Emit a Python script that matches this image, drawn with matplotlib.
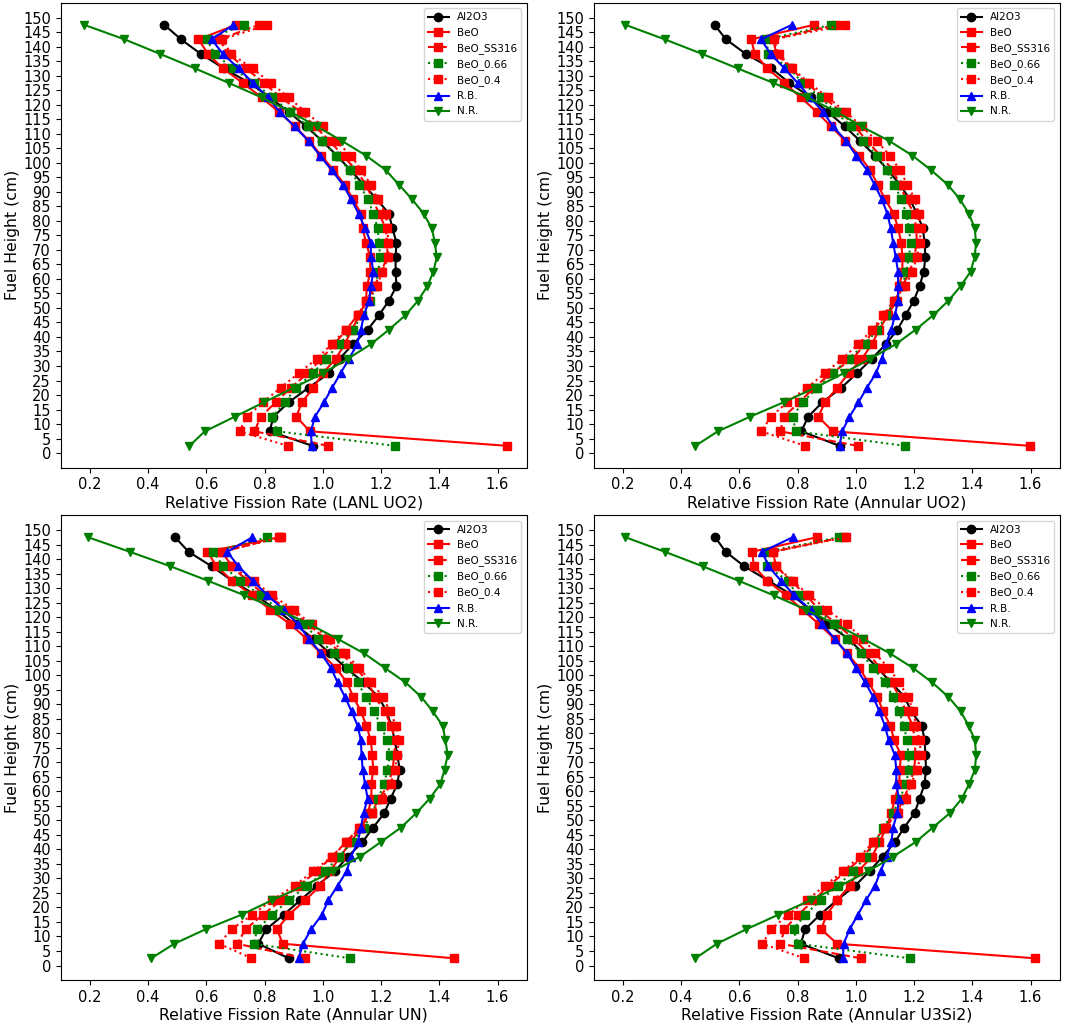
import numpy as np
import matplotlib.pyplot as plt

plt.rcParams['font.size'] = 10.5

heights = [2.5, 7.5, 12.5, 17.5, 22.5, 27.5, 32.5, 37.5, 42.5, 47.5,
           52.5, 57.5, 62.5, 67.5, 72.5, 77.5, 82.5, 87.5, 92.5, 97.5,
           102.5, 107.5, 112.5, 117.5, 122.5, 127.5, 132.5, 137.5, 142.5, 147.5]

names = ['Al2O3', 'BeO', 'BeO_SS316', 'BeO_0.66', 'BeO_0.4', 'R.B.', 'N.R.']
styles = ['k-o', 'r-s', 'r--s', 'g:s', 'r:s', 'b-^', 'g-v']
xlabels = ['Relative Fission Rate (LANL UO2)', 'Relative Fission Rate (Annular UO2)',
           'Relative Fission Rate (Annular UN)', 'Relative Fission Rate (Annular U3Si2)']

# LANL UO2
p1_al2o3 = [0.965, 0.818, 0.830, 0.883, 0.951, 1.021, 1.058, 1.103, 1.154, 1.193, 1.227, 1.253, 1.250, 1.250, 1.253,
            1.239, 1.227, 1.185, 1.140, 1.095, 1.048, 0.998, 0.943, 0.883, 0.818, 0.748, 0.660, 0.581, 0.513, 0.456]
p1_beo = [1.634, 0.956, 0.909, 0.928, 0.968, 1.000, 1.044, 1.075, 1.100, 1.126, 1.148, 1.152, 1.163, 1.163, 1.148,
          1.137, 1.131, 1.103, 1.075, 1.036, 0.995, 0.953, 0.905, 0.849, 0.790, 0.725, 0.657, 0.606, 0.573, 0.702]
p1_ss316 = [1.019, 0.765, 0.787, 0.838, 0.890, 0.948, 0.995, 1.040, 1.080, 1.120, 1.150, 1.178, 1.200, 1.222, 1.221,
            1.216, 1.193, 1.171, 1.148, 1.114, 1.069, 1.024, 0.973, 0.925, 0.855, 0.798, 0.736, 0.675, 0.645, 0.781]
p1_066 = [1.247, 0.844, 0.827, 0.870, 0.908, 0.966, 1.011, 1.056, 1.103, 1.135, 1.163, 1.180, 1.190, 1.197, 1.193,
          1.188, 1.174, 1.154, 1.126, 1.092, 1.047, 0.996, 0.949, 0.889, 0.826, 0.765, 0.691, 0.629, 0.601, 0.730]
p1_04 = [0.880, 0.714, 0.739, 0.795, 0.855, 0.917, 0.979, 1.030, 1.078, 1.122, 1.155, 1.185, 1.205, 1.225, 1.225,
         1.222, 1.216, 1.188, 1.165, 1.131, 1.097, 1.045, 1.001, 0.940, 0.883, 0.821, 0.759, 0.685, 0.655, 0.809]
p1_rb = [0.962, 0.959, 0.973, 1.004, 1.032, 1.061, 1.090, 1.118, 1.131, 1.141, 1.159, 1.165, 1.174, 1.165, 1.165,
         1.145, 1.123, 1.097, 1.069, 1.030, 0.990, 0.951, 0.903, 0.852, 0.812, 0.760, 0.711, 0.657, 0.618, 0.693]
p1_nr = [0.542, 0.595, 0.697, 0.798, 0.900, 1.001, 1.086, 1.165, 1.227, 1.284, 1.327, 1.359, 1.380, 1.391, 1.385,
         1.374, 1.346, 1.306, 1.261, 1.216, 1.148, 1.066, 0.980, 0.890, 0.790, 0.677, 0.561, 0.441, 0.319, 0.181]

# Annular UO2
p2_al2o3 = [0.944, 0.813, 0.836, 0.885, 0.950, 1.004, 1.055, 1.103, 1.143, 1.171, 1.199, 1.219, 1.233, 1.239, 1.236,
            1.230, 1.210, 1.185, 1.151, 1.110, 1.065, 1.015, 0.962, 0.904, 0.845, 0.772, 0.710, 0.622, 0.554, 0.515]
p2_beo = [1.598, 0.921, 0.871, 0.894, 0.936, 0.975, 1.021, 1.055, 1.080, 1.110, 1.140, 1.149, 1.160, 1.160, 1.156,
          1.145, 1.130, 1.100, 1.075, 1.049, 1.012, 0.964, 0.915, 0.866, 0.811, 0.755, 0.696, 0.653, 0.641, 0.856]
p2_ss316 = [1.006, 0.741, 0.752, 0.806, 0.856, 0.915, 0.990, 1.030, 1.060, 1.103, 1.137, 1.160, 1.185, 1.200, 1.210,
            1.207, 1.200, 1.173, 1.150, 1.128, 1.083, 1.040, 0.995, 0.950, 0.890, 0.830, 0.777, 0.728, 0.715, 0.933]
p2_066 = [1.168, 0.794, 0.783, 0.817, 0.868, 0.922, 0.975, 1.032, 1.074, 1.105, 1.135, 1.160, 1.173, 1.182, 1.188,
          1.182, 1.173, 1.156, 1.132, 1.108, 1.072, 1.026, 0.984, 0.930, 0.879, 0.817, 0.772, 0.700, 0.692, 0.916]
p2_04 = [0.826, 0.675, 0.709, 0.764, 0.832, 0.894, 0.953, 1.009, 1.055, 1.095, 1.130, 1.170, 1.194, 1.210, 1.219,
         1.224, 1.216, 1.202, 1.177, 1.151, 1.117, 1.072, 1.021, 0.965, 0.904, 0.840, 0.781, 0.735, 0.718, 0.964]
p2_rb = [0.944, 0.953, 0.978, 1.009, 1.038, 1.069, 1.089, 1.103, 1.122, 1.134, 1.145, 1.145, 1.145, 1.137, 1.128,
         1.120, 1.108, 1.089, 1.064, 1.038, 1.001, 0.967, 0.922, 0.888, 0.843, 0.800, 0.755, 0.707, 0.675, 0.780]
p2_nr = [0.449, 0.526, 0.636, 0.752, 0.860, 0.958, 1.050, 1.137, 1.205, 1.266, 1.318, 1.360, 1.394, 1.408, 1.413,
         1.408, 1.388, 1.357, 1.315, 1.258, 1.194, 1.115, 1.020, 0.935, 0.834, 0.717, 0.594, 0.472, 0.344, 0.209]

# Annular UN
p3_al2o3 = [0.883, 0.778, 0.806, 0.866, 0.923, 0.980, 1.042, 1.086, 1.136, 1.173, 1.211, 1.233, 1.256, 1.264, 1.256,
            1.247, 1.236, 1.219, 1.192, 1.140, 1.080, 1.025, 0.968, 0.905, 0.840, 0.770, 0.690, 0.618, 0.539, 0.493]
p3_beo = [1.450, 0.862, 0.843, 0.883, 0.940, 0.991, 1.025, 1.060, 1.095, 1.133, 1.155, 1.167, 1.167, 1.173, 1.170,
          1.165, 1.150, 1.131, 1.105, 1.083, 1.045, 0.994, 0.945, 0.889, 0.820, 0.758, 0.689, 0.635, 0.604, 0.850]
p3_ss316 = [0.938, 0.706, 0.735, 0.794, 0.858, 0.917, 0.980, 1.031, 1.080, 1.125, 1.165, 1.195, 1.225, 1.240, 1.245,
            1.250, 1.235, 1.213, 1.179, 1.156, 1.114, 1.063, 1.008, 0.951, 0.888, 0.803, 0.741, 0.687, 0.655, 0.852]
p3_066 = [1.093, 0.763, 0.775, 0.826, 0.883, 0.946, 1.008, 1.056, 1.100, 1.140, 1.170, 1.190, 1.211, 1.222, 1.230,
          1.222, 1.199, 1.177, 1.147, 1.120, 1.088, 1.038, 0.985, 0.935, 0.851, 0.787, 0.716, 0.659, 0.623, 0.809]
p3_04 = [0.755, 0.644, 0.687, 0.758, 0.825, 0.903, 0.968, 1.031, 1.082, 1.128, 1.170, 1.204, 1.233, 1.247, 1.256,
         1.261, 1.253, 1.230, 1.207, 1.167, 1.125, 1.076, 1.025, 0.962, 0.900, 0.826, 0.763, 0.687, 0.655, 0.858]
p3_rb = [0.917, 0.932, 0.960, 0.997, 1.019, 1.051, 1.082, 1.097, 1.120, 1.131, 1.140, 1.154, 1.145, 1.137, 1.133,
         1.131, 1.120, 1.099, 1.076, 1.051, 1.028, 0.994, 0.953, 0.915, 0.866, 0.810, 0.760, 0.710, 0.672, 0.758]
p3_nr = [0.411, 0.490, 0.598, 0.721, 0.826, 0.935, 1.036, 1.128, 1.199, 1.268, 1.321, 1.367, 1.404, 1.418, 1.429,
         1.421, 1.412, 1.378, 1.338, 1.284, 1.213, 1.142, 1.051, 0.955, 0.849, 0.731, 0.606, 0.477, 0.337, 0.194]

# Annular U3Si2
p4_al2o3 = [0.941, 0.811, 0.826, 0.877, 0.935, 0.998, 1.047, 1.092, 1.134, 1.166, 1.202, 1.219, 1.236, 1.241, 1.239,
            1.236, 1.227, 1.190, 1.168, 1.120, 1.075, 1.025, 0.975, 0.905, 0.843, 0.783, 0.700, 0.617, 0.553, 0.517]
p4_beo = [1.615, 0.936, 0.881, 0.900, 0.936, 0.979, 1.009, 1.055, 1.081, 1.105, 1.122, 1.134, 1.149, 1.151, 1.155,
          1.132, 1.119, 1.094, 1.074, 1.043, 1.012, 0.970, 0.927, 0.874, 0.817, 0.760, 0.696, 0.650, 0.644, 0.866]
p4_ss316 = [1.017, 0.741, 0.755, 0.802, 0.856, 0.907, 0.967, 1.025, 1.066, 1.100, 1.140, 1.165, 1.185, 1.200, 1.205,
            1.202, 1.196, 1.173, 1.151, 1.122, 1.083, 1.043, 0.992, 0.936, 0.874, 0.830, 0.777, 0.726, 0.715, 0.955]
p4_066 = [1.185, 0.800, 0.786, 0.826, 0.879, 0.938, 0.990, 1.035, 1.065, 1.095, 1.128, 1.150, 1.173, 1.181, 1.181,
          1.176, 1.165, 1.149, 1.128, 1.100, 1.060, 1.019, 0.970, 0.925, 0.868, 0.800, 0.766, 0.696, 0.692, 0.941]
p4_04 = [0.823, 0.679, 0.709, 0.768, 0.832, 0.894, 0.956, 1.013, 1.060, 1.100, 1.145, 1.171, 1.190, 1.210, 1.224,
         1.219, 1.207, 1.198, 1.179, 1.149, 1.113, 1.066, 1.026, 0.970, 0.902, 0.840, 0.783, 0.726, 0.715, 0.967]
p4_rb = [0.956, 0.958, 0.979, 1.007, 1.035, 1.066, 1.085, 1.106, 1.122, 1.128, 1.142, 1.148, 1.139, 1.139, 1.134,
         1.113, 1.100, 1.081, 1.060, 1.032, 1.001, 0.970, 0.928, 0.885, 0.845, 0.789, 0.743, 0.700, 0.679, 0.783]
p4_nr = [0.449, 0.523, 0.624, 0.734, 0.845, 0.947, 1.043, 1.128, 1.205, 1.264, 1.323, 1.364, 1.389, 1.409, 1.413,
         1.409, 1.388, 1.360, 1.318, 1.262, 1.196, 1.117, 1.026, 0.930, 0.830, 0.718, 0.598, 0.474, 0.344, 0.209]

panels = [
    [p1_al2o3, p1_beo, p1_ss316, p1_066, p1_04, p1_rb, p1_nr],
    [p2_al2o3, p2_beo, p2_ss316, p2_066, p2_04, p2_rb, p2_nr],
    [p3_al2o3, p3_beo, p3_ss316, p3_066, p3_04, p3_rb, p3_nr],
    [p4_al2o3, p4_beo, p4_ss316, p4_066, p4_04, p4_rb, p4_nr],
]

fig, axes = plt.subplots(2, 2, figsize=(10.65, 10.23), dpi=100)
plt.subplots_adjust(left=0.057, right=0.995, top=0.997, bottom=0.042, wspace=0.144, hspace=0.103)

for ax, series, xl in zip(axes.flat, panels, xlabels):
    for vals, st, nm in zip(series, styles, names):
        ax.plot(vals, heights, st, label=nm, markersize=6)
    ax.set_xlim(0.1, 1.7)
    ax.set_ylim(-5, 155)
    ax.set_yticks(np.arange(0, 151, 5))
    ax.set_xlabel(xl, fontsize=11.3, labelpad=2)
    ax.set_ylabel('Fuel Height (cm)', fontsize=11.3, labelpad=2)
    ax.legend(loc='upper right', fontsize=7.5)

plt.savefig('out.png')
